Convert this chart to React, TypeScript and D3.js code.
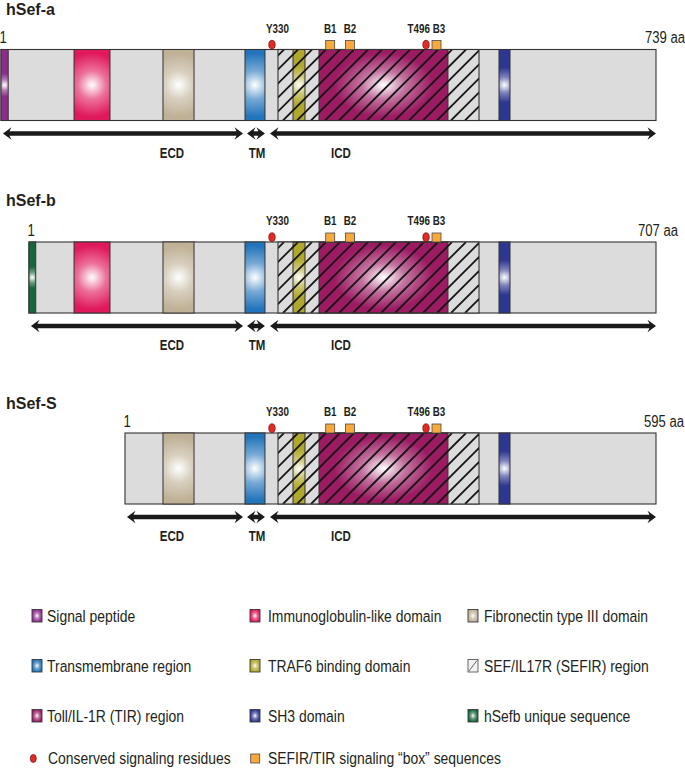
import React from "react";
import * as d3 from "d3";

// ---------- data ----------
const isoformNames = ["hSef-a", "hSef-b", "hSef-S"];
const isoformLengths = ["739 aa", "707 aa", "595 aa"];
// schematic positions, expressed as % of the full-length track
const isoformStarts = [0, 4.27, 18.93];
const trackEnd = 100;

const domainNames = [
  "Signal peptide",
  "Immunoglobulin-like domain",
  "Fibronectin type III domain",
  "Transmembrane region",
  "TRAF6 binding domain",
  "SEF/IL17R (SEFIR) region",
  "Toll/IL-1R (TIR) region",
  "SH3 domain",
  "hSefb unique sequence",
];
const domainStarts = [0, 11.15, 24.73, 37.25, 44.58, 42.29, 48.55, 76.03, 4.27];
const domainEnds = [1.1, 16.64, 29.47, 40.3, 46.41, 72.98, 68.24, 77.71, 5.3];
const domainColors = [
  "#8e2b8e",
  "#e0195c",
  "#bfb196",
  "#2274bb",
  "#b0a82a",
  "#dcdcdc",
  "#9c1b63",
  "#2d3691",
  "#16673a",
];
const isoformDomains = [
  [0, 1, 2, 3, 5, 4, 6, 7],
  [8, 1, 2, 3, 5, 4, 6, 7],
  [2, 3, 5, 4, 6, 7],
];

const residueNames = ["Y330", "T496"];
const residuePos = [41.37, 64.89];
const boxNames = ["B1", "B2", "B3"];
const boxPos = [50.26, 53.28, 66.49];

const regionNames = ["ECD", "TM", "ICD"];
const regionEnds = [36.95, 40.3, 100];
const regionStarts = [null, 37.56, 41.07]; // ECD starts at isoform start
const regionLabelPos = [26.1, 39.1, 51.9];

const markerLegend = ["Conserved signaling residues", "SEFIR/TIR signaling \u201cbox\u201d sequences"];

// ---------- layout ----------
const W = 685;
const H = 768;
const BAR_H = 71;
const rowTops = [49.5, 242, 433];
const titleBaselines = [15, 206, 409];
const lengthLabelX = [645, 638, 644];
const SANS = "'Liberation Sans', Arial, sans-serif";
const CONDENSE = 0.82;

const x = d3.scaleLinear().domain([0, trackEnd]).range([1, 656]);

function Txt({ x: tx, y: ty, size, bold, anchor, children }: any) {
  return (
    <text
      transform={`translate(${tx},${ty}) scale(${CONDENSE},1)`}
      textAnchor={anchor || "start"}
      fontFamily={SANS}
      fontWeight={bold ? "bold" : "normal"}
      fontSize={size}
      fill="#231f20"
    >
      {children}
    </text>
  );
}

function arrowPath(x0: number, x1: number, y: number) {
  const L = 8.5, h = 6.3, t = 2.2, n = 2;
  const p = d3.path();
  p.moveTo(x0, y);
  p.lineTo(x0 + L, y - h);
  p.lineTo(x0 + L - n, y - t);
  p.lineTo(x1 - L + n, y - t);
  p.lineTo(x1 - L, y - h);
  p.lineTo(x1, y);
  p.lineTo(x1 - L, y + h);
  p.lineTo(x1 - L + n, y + t);
  p.lineTo(x0 + L - n, y + t);
  p.lineTo(x0 + L, y + h);
  p.closePath();
  return p.toString();
}

const SEFIR = 5;

function Stops({ color }: { color: string }) {
  return (
    <>
      <stop offset="0" stopColor="#ffffff" />
      <stop offset="0.45" stopColor={d3.interpolateRgb("#ffffff", color)(0.62)} />
      <stop offset="1" stopColor={color} />
    </>
  );
}

function DomainGradient({ id, color, x0, x1, y0 }: any) {
  const w = x1 - x0;
  const cx = (x0 + x1) / 2;
  const cy = y0 + BAR_H / 2;
  const r = Math.min(BAR_H * 0.45, w * 1.6);
  const sx = Math.max(1, (w / BAR_H) * 0.85);
  return (
    <radialGradient id={id} gradientUnits="userSpaceOnUse" cx={cx} cy={cy} r={r} fx={cx} fy={cy}
      gradientTransform={`translate(${cx},${cy}) scale(${sx},1) translate(${-cx},${-cy})`}>
      <Stops color={color} />
    </radialGradient>
  );
}

function Row({ r }: { r: number }) {
  const y0 = rowTops[r];
  const y1 = y0 + BAR_H;
  const xs = x(isoformStarts[r]);
  const xe = x(trackEnd);
  const doms = isoformDomains[r];
  const sx0 = x(domainStarts[SEFIR]);
  const sx1 = x(domainEnds[SEFIR]);
  const period = 14;
  const hatchXs = d3.range(sx0 - BAR_H + 6, sx1 + 1, period);
  const arrowY = y1 + 13;
  const labelBase = y0 - 17;
  return (
    <g>
      <defs>
        {doms.filter((d) => d !== SEFIR).map((d) => (
          <DomainGradient key={d} id={`g-${r}-${d}`} color={domainColors[d]}
            x0={x(domainStarts[d])} x1={x(domainEnds[d])} y0={y0} />
        ))}
        <clipPath id={`clip-sefir-${r}`}>
          <rect x={sx0} y={y0} width={sx1 - sx0} height={BAR_H} />
        </clipPath>
      </defs>
      <text x={6} y={titleBaselines[r]} fontFamily={SANS} fontWeight="bold" fontSize={16} fill="#231f20">
        {isoformNames[r]}
      </text>
      <Txt x={xs - 1.5} y={y0 - 6.5} size={16}>1</Txt>
      <Txt x={lengthLabelX[r]} y={y0 - 6.5} size={16}>{isoformLengths[r]}</Txt>
      <rect x={xs} y={y0} width={xe - xs} height={BAR_H} fill="#dcdcdc" stroke="#333" strokeWidth={1.1} />
      {doms.map((d) => {
        const dx0 = x(domainStarts[d]);
        const dx1 = x(domainEnds[d]);
        if (d === SEFIR) {
          return <rect key={d} x={dx0} y={y0} width={dx1 - dx0} height={BAR_H} fill="#dcdcdc" />;
        }
        return (
          <rect key={d} x={dx0} y={y0} width={dx1 - dx0} height={BAR_H}
            fill={`url(#g-${r}-${d})`} stroke="#333" strokeWidth={1} />
        );
      })}
      <g clipPath={`url(#clip-sefir-${r})`}>
        {hatchXs.map((hx, i) => (
          <line key={i} x1={hx} y1={y1} x2={hx + BAR_H} y2={y0} stroke="#161616" strokeWidth={1.8} />
        ))}
      </g>
      <rect x={sx0} y={y0} width={sx1 - sx0} height={BAR_H} fill="none" stroke="#333" strokeWidth={1.1} />

      {residueNames.map((nm, i) => (
        <g key={nm}>
          <ellipse cx={x(residuePos[i])} cy={y0 - 4.8} rx={3.2} ry={4.4} fill="#e42a22" stroke="#6b1010" strokeWidth={0.7} />
          <Txt x={i === 0 ? x(residuePos[i]) - 6 : x(residuePos[i]) + 4} y={labelBase}
            anchor={i === 0 ? "start" : "end"} bold size={12}>
            {nm}
          </Txt>
        </g>
      ))}
      {boxNames.map((nm, i) => (
        <g key={nm}>
          <rect x={x(boxPos[i]) - 4.5} y={y0 - 9} width={9} height={9} fill="#f8a93b" stroke="#4a4a4a" strokeWidth={0.8} />
          <Txt x={x(boxPos[i]) + (i === 2 ? 2.5 : 0)} y={labelBase} anchor="middle" bold size={12}>
            {nm}
          </Txt>
        </g>
      ))}

      {regionNames.map((nm, i) => {
        const a0 = regionStarts[i] === null ? x(isoformStarts[r] + 0.3) : x(regionStarts[i] as number);
        const a1 = x(regionEnds[i]);
        return (
          <g key={nm}>
            <path d={arrowPath(a0, a1, arrowY)} fill="#1a1a1a" />
            <Txt x={x(regionLabelPos[i])} y={y1 + 37} anchor="middle" bold size={14}>
              {nm}
            </Txt>
          </g>
        );
      })}
    </g>
  );
}

const legendColX = [32, 250, 468];
const legendTextX = [47, 268, 484];
const legendBaselines = [622, 672, 722, 764];

function Legend() {
  return (
    <g>
      {domainNames.map((nm, i) => {
        const col = i % 3;
        const row = Math.floor(i / 3);
        const sx = legendColX[col];
        const by = legendBaselines[row];
        const sy = by - 12.5;
        return (
          <g key={nm}>
            {i === SEFIR ? (
              <g>
                <rect x={sx} y={sy} width={10} height={12.5} fill="#f2f2f2" stroke="#444" strokeWidth={0.8} />
                <line x1={sx + 1} y1={sy + 11.5} x2={sx + 9} y2={sy + 1} stroke="#444" strokeWidth={0.8} />
              </g>
            ) : (
              <rect x={sx} y={sy} width={10} height={12.5} fill={`url(#grad-${i})`} stroke="#3a3a3a" strokeWidth={0.9} />
            )}
            <Txt x={legendTextX[col]} y={by} size={17}>{nm}</Txt>
          </g>
        );
      })}
      <ellipse cx={33.3} cy={legendBaselines[3] - 5.5} rx={3} ry={4} fill="#e42a22" stroke="#6b1010" strokeWidth={0.7} />
      <Txt x={48} y={legendBaselines[3]} size={17}>{markerLegend[0]}</Txt>
      <rect x={250.7} y={legendBaselines[3] - 10} width={9} height={9} fill="#f8a93b" stroke="#4a4a4a" strokeWidth={0.8} />
      <Txt x={268} y={legendBaselines[3]} size={17}>{markerLegend[1]}</Txt>
    </g>
  );
}

export default function App() {
  return (
    <svg width={W} height={H} viewBox={`0 0 ${W} ${H}`}
      style={{ position: "absolute", left: 0, top: 0, background: "#fff" }}>
      <defs>
        {domainColors.map((c, i) => (
          <radialGradient key={i} id={`grad-${i}`} cx="50%" cy="50%" r="50%">
            <Stops color={c} />
          </radialGradient>
        ))}
      </defs>
      <rect x={0} y={0} width={W} height={H} fill="#fff" />
      {isoformNames.map((_, r) => (
        <Row key={r} r={r} />
      ))}
      <Legend />
    </svg>
  );
}
